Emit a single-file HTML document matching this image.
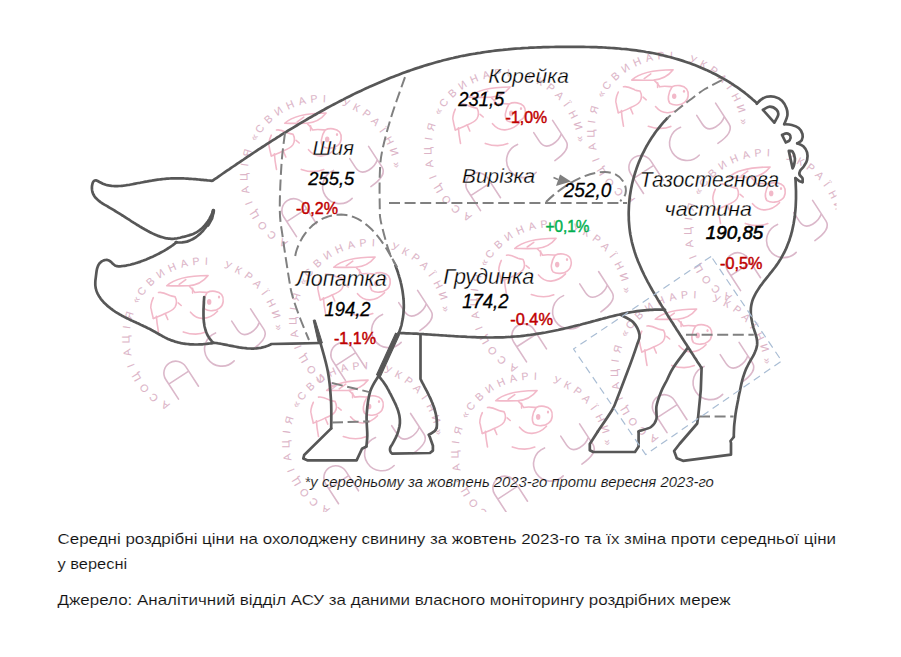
<!DOCTYPE html>
<html><head><meta charset="utf-8"><title>pig</title>
<style>html,body{margin:0;padding:0;background:#fff;}svg{display:block;}text{font-family:"Liberation Sans",sans-serif;}</style></head>
<body><svg width="901" height="657" viewBox="0 0 901 657">
<defs>
<clipPath id="wmclip"><rect x="118" y="40" width="718.5" height="472"/></clipPath>
<g id="logo">
<g font-family="Liberation Sans" font-size="10.6" fill="#dcb4c7" stroke="#dcb4c7" stroke-width="0.08" text-anchor="middle">
<text transform="rotate(209.0) translate(0,-73.4)">А</text>
<text transform="rotate(219.5) translate(0,-73.4)">С</text>
<text transform="rotate(229.5) translate(0,-73.4)">О</text>
<text transform="rotate(239.5) translate(0,-73.4)">Ц</text>
<text transform="rotate(249.0) translate(0,-73.4)">І</text>
<text transform="rotate(259.0) translate(0,-73.4)">А</text>
<text transform="rotate(269.0) translate(0,-73.4)">Ц</text>
<text transform="rotate(278.0) translate(0,-73.4)">І</text>
<text transform="rotate(287.0) translate(0,-73.4)">Я</text>
<text transform="rotate(300.0) translate(0,-73.4)">«</text>
<text transform="rotate(307.4) translate(0,-73.4)">С</text>
<text transform="rotate(317.0) translate(0,-73.4)">В</text>
<text transform="rotate(326.7) translate(0,-73.4)">И</text>
<text transform="rotate(336.4) translate(0,-73.4)">Н</text>
<text transform="rotate(346.0) translate(0,-73.4)">А</text>
<text transform="rotate(354.9) translate(0,-73.4)">Р</text>
<text transform="rotate(362.6) translate(0,-73.4)">І</text>
<text transform="rotate(379.1) translate(0,-73.4)">У</text>
<text transform="rotate(387.6) translate(0,-73.4)">К</text>
<text transform="rotate(396.6) translate(0,-73.4)">Р</text>
<text transform="rotate(405.4) translate(0,-73.4)">А</text>
<text transform="rotate(413.7) translate(0,-73.4)">Ї</text>
<text transform="rotate(422.8) translate(0,-73.4)">Н</text>
<text transform="rotate(432.0) translate(0,-73.4)">И</text>
<text transform="rotate(442.0) translate(0,-73.4)">»</text>
</g>
<g fill="none" stroke="#f2b9c9" stroke-width="1.6" stroke-linecap="round" stroke-linejoin="round">
<path d="M-36.1,-52.3 C-30,-58 -18,-62.5 5.3,-62.6 C1,-57 -4,-53 -14.3,-52.3 C-24,-52 -31,-52.3 -36.1,-52.3 Z"/>
<path d="M-23.6,-53.8 L-17,-58.5"/>
<path d="M-13.3,-51.8 C-10,-49 -9,-47 -8.1,-45.6 M-8.1,-45.6 C-4,-46.6 0,-46 4.3,-45.6"/>
<path d="M4.3,-45.6 C9,-48 16,-47 18.8,-43.5 C21.5,-40 21,-33 16.7,-30 C13,-27 6,-26.5 2.2,-29 C-0.5,-32 0,-39 4.3,-45.6 Z"/>
<path d="M-12.3,-25.9 C-9,-22 -4,-19.5 0.2,-19.7 C5,-20 11,-23 14.7,-26.9"/>
<path d="M-19.5,-6.2 C-13,-4 -4,-3 3,-6"/>
<path d="M-44.3,-45.6 C-40,-46.5 -36,-44 -33,-42.5 C-30,-41.5 -28,-41.5 -27.8,-41.4 C-26,-38 -26,-34 -27.8,-31 C-30,-28 -34,-26 -37.1,-24.9 C-40,-23.5 -45,-21 -49.5,-19.7"/>
<path d="M-49.5,-40.4 C-52,-35 -52.5,-30 -51.6,-29 C-51,-25 -50,-22 -49.5,-19.7"/>
<path d="M-37.5,-24.5 L-35,-18.6"/>
<path d="M-46.4,-21.8 C-46,-15 -45,-10 -44.3,-6.2"/>
<path d="M-24.7,-35.2 L-21.6,-32.6"/>
<path d="M-10.2,-49.7 L-10.2,-45"/>
<ellipse cx="6.4" cy="-36.2" rx="2.2" ry="2.8" fill="#f2b9c9" stroke="none"/>
<ellipse cx="16.2" cy="-41.2" rx="1.1" ry="1.5" fill="#f2b9c9" stroke="none"/>
</g>
<g fill="none" stroke="#dbb8ca" stroke-width="1.6" stroke-linecap="round" transform="rotate(-33)">
<path d="M-53.6,38 L-53.6,14.6 A11.9,11.9 0 0 1 -29.8,14.6 L-29.8,38 M-53.6,20 L-29.8,20"/>
<path d="M13.5,2.6 A17.2,17.2 0 1 0 13.9,36.2"/>
<path d="M33.5,1.5 L33.5,12 Q33.5,21 43,21.5 Q51,21.8 56,17.5 M56,1.5 L56,26 Q56,36 36,36.5"/>
</g></g>
</defs>
<rect width="901" height="657" fill="#fff"/>
<g clip-path="url(#wmclip)">
<use href="#logo" x="202.8" y="338.1"/>
<use href="#logo" x="320.8" y="175.6"/>
<use href="#logo" x="504.8" y="149.6"/>
<use href="#logo" x="667.8" y="132.4"/>
<use href="#logo" x="764.8" y="229.6"/>
<use href="#logo" x="550.8" y="300.8"/>
<use href="#logo" x="369.8" y="319.6"/>
<use href="#logo" x="531.8" y="453.1"/>
<use href="#logo" x="691.3" y="371.6"/>
<use href="#logo" x="362.8" y="442.7"/>
</g>
<path d="M212.7,180.6 L214.7,179.2 L216.8,177.8 L218.8,176.4 L220.8,175.0 L222.9,173.5 L224.9,172.1 L227.0,170.7 L229.1,169.3 L231.1,167.9 L233.2,166.5 L235.3,165.1 L237.3,163.7 L239.4,162.3 L241.5,160.9 L243.6,159.5 L245.6,158.1 L247.7,156.7 L249.8,155.3 L251.9,153.9 L254.0,152.5 L256.1,151.1 L258.2,149.7 L260.3,148.3 L262.4,147.0 L264.6,145.6 L266.7,144.2 L268.8,142.8 L270.9,141.5 L273.0,140.1 L275.2,138.8 L277.3,137.4 L279.5,136.1 L281.6,134.7 L283.7,133.4 L285.9,132.1 L288.0,130.7 L290.2,129.4 L292.4,128.1 L294.5,126.8 L296.7,125.5 L298.9,124.2 L301.0,122.9 L303.2,121.6 L305.4,120.3 L307.6,119.0 L309.8,117.7 L312.0,116.5 L314.2,115.2 L316.4,114.0 L318.6,112.7 L320.8,111.5 L323.0,110.3 L325.2,109.0 L327.4,107.8 L329.6,106.6 L331.9,105.4 L334.1,104.2 L336.3,103.1 L338.6,101.9 L340.8,100.7 L343.1,99.6 L345.3,98.4 L347.6,97.3 L349.8,96.2 L352.1,95.0 L354.3,93.9 L356.6,92.8 L358.9,91.7 L361.2,90.7 L363.4,89.6 L365.7,88.5 L368.0,87.5 L370.3,86.4 L372.6,85.4 L374.9,84.4 L377.2,83.4 L379.5,82.4 L381.8,81.4 L384.1,80.4 L386.5,79.5 L388.8,78.5 L391.1,77.6 L393.5,76.7 L395.8,75.8 L398.1,74.9 L400.5,74.0 L402.8,73.1 L405.2,72.2 L407.5,71.4 L409.9,70.6 L412.3,69.7 L414.6,68.9 L417.0,68.1 L419.4,67.4 L421.8,66.6 L424.2,65.8 L426.5,65.1 L428.9,64.4 L431.3,63.7 L433.7,63.0 L436.2,62.3 L438.6,61.6 L441.0,61.0 L443.4,60.3 L445.8,59.7 L448.3,59.1 L450.7,58.5 L453.1,58.0 L455.6,57.4 L458.0,56.9 L460.5,56.3 L462.9,55.8 L465.4,55.4 L467.9,54.9 L470.3,54.4 L472.8,54.0 L475.3,53.6 L477.8,53.1 L480.3,52.8 L482.7,52.4 L485.2,52.0 L487.7,51.7 L490.2,51.3 L492.7,51.0 L495.2,50.7 L497.7,50.4 L500.3,50.1 L502.8,49.9 L505.3,49.6 L507.8,49.4 L510.3,49.1 L512.8,48.9 L515.4,48.7 L517.9,48.5 L520.4,48.4 L522.9,48.2 L525.5,48.0 L528.0,47.9 L530.5,47.7 L533.1,47.6 L535.6,47.5 L538.1,47.4 L540.7,47.3 L543.2,47.2 L545.7,47.1 L548.3,47.1 L550.8,47.0 L553.3,47.0 L555.9,46.9 L558.4,46.9 L560.9,46.8 L563.5,46.8 L566.0,46.8 L568.5,46.8 L571.1,46.8 L573.6,46.8 L576.1,46.8 L578.7,46.8 L581.2,46.9 L583.7,46.9 L586.2,47.0 L588.8,47.0 L591.3,47.1 L593.8,47.1 L596.3,47.2 L598.8,47.3 L601.3,47.4 L603.8,47.5 L606.4,47.7 L608.9,47.8 L611.4,48.0 L613.9,48.1 L616.4,48.3 L618.9,48.5 L621.4,48.8 L623.9,49.0 L626.4,49.2 L628.9,49.5 L631.3,49.8 L633.8,50.1 L636.3,50.4 L638.8,50.8 L641.3,51.2 L643.8,51.5 L646.2,52.0 L648.7,52.4 L651.2,52.8 L653.7,53.3 L656.1,53.8 L658.6,54.3 L661.0,54.9 L663.5,55.5 L665.9,56.1 L668.4,56.7 L670.8,57.3 L673.2,58.0 L675.7,58.7 L678.1,59.4 L680.5,60.1 L682.9,60.9 L685.3,61.7 L687.6,62.5 L690.0,63.3 L692.4,64.2 L694.7,65.1 L697.1,66.0 L699.4,66.9 L701.7,67.9 L704.0,68.9 L706.3,69.9 L708.6,71.0 L710.9,72.1 L713.1,73.2 L715.4,74.3 L717.6,75.5 L719.8,76.7 L722.0,77.9 L724.2,79.1 L726.4,80.4 L728.5,81.7 L730.7,83.0 L732.8,84.4 L734.9,85.8 L737.0,87.2 L739.1,88.7 L741.1,90.2 L743.2,91.7 L745.2,93.2 L747.2,94.8 L749.1,96.4 L751.1,98.0 L753.0,99.7 L755.0,101.4 L756.9,103.1" fill="none" stroke="#575757" stroke-width="2.7" stroke-linecap="round" stroke-linejoin="round"/>
<path d="M756.8,103.7 C757.4,103.1 759.1,101.1 760.7,99.9 C762.4,98.8 764.4,97.3 766.7,96.8 C769.0,96.3 771.8,96.1 774.3,96.8 C776.8,97.5 780.0,98.8 782.0,100.7 C784.0,102.6 785.6,105.8 786.5,108.3 C787.4,110.8 787.7,113.2 787.3,115.9 C786.9,118.6 784.7,122.8 784.2,124.2" fill="none" stroke="#575757" stroke-width="2.7" stroke-linecap="round" stroke-linejoin="round"/>
<path d="M784.2,124.2 C785.5,124.3 789.4,124.4 791.8,125.0 C794.2,125.6 796.9,126.5 798.7,128.0 C800.5,129.5 802.0,132.1 802.5,134.1 C803.0,136.1 802.6,138.7 801.7,140.2 C800.8,141.7 798.0,142.8 797.2,143.3" fill="none" stroke="#575757" stroke-width="2.7" stroke-linecap="round" stroke-linejoin="round"/>
<path d="M797.2,143.3 C798.2,143.8 801.6,144.8 803.3,146.3 C804.9,147.8 806.5,150.1 807.1,152.4 C807.7,154.7 807.6,157.7 807.1,160.0 C806.6,162.3 805.1,164.3 804.0,166.1 C802.9,167.9 801.0,169.3 800.2,170.7 C799.5,172.1 799.1,173.2 799.5,174.5 C799.9,175.8 802.0,177.0 802.5,178.3 C803.0,179.6 802.5,181.5 802.5,182.1" fill="none" stroke="#575757" stroke-width="2.7" stroke-linecap="round" stroke-linejoin="round"/>
<path d="M802.5,182.1 L799.5,181.3 L795.7,178.3" fill="none" stroke="#575757" stroke-width="2.7" stroke-linecap="round" stroke-linejoin="round"/>
<path d="M762.9,109.8 C764.0,109.3 767.5,106.7 769.8,106.7 C772.1,106.7 775.2,108.4 776.6,109.8 C778.0,111.2 778.6,112.9 778.2,115.1 C777.8,117.2 774.9,121.4 774.3,122.7 Z" fill="none" stroke="#575757" stroke-width="2.7" stroke-linecap="round" stroke-linejoin="round"/>
<path d="M782.0,134.9 C782.8,134.7 785.1,133.3 786.5,133.4 C787.9,133.5 789.8,134.6 790.3,135.7 C790.8,136.8 790.4,139.1 789.6,140.2 C788.9,141.3 786.4,142.1 785.8,142.5 Z" fill="none" stroke="#575757" stroke-width="2.7" stroke-linecap="round" stroke-linejoin="round"/>
<path d="M788.8,150.9 C789.4,151.0 791.6,150.3 792.6,151.6 C793.6,152.9 794.6,156.3 794.9,158.5 C795.1,160.7 794.5,162.9 794.1,164.6 C793.7,166.2 792.9,167.8 792.6,168.4 Z" fill="none" stroke="#575757" stroke-width="2.7" stroke-linecap="round" stroke-linejoin="round"/>
<path d="M795.4,178.2 L795.6,180.8 L795.7,183.3 L795.8,185.9 L795.9,188.5 L796.0,191.0 L796.0,193.6 L796.0,196.2 L796.0,198.7 L795.9,201.2 L795.8,203.8 L795.7,206.3 L795.5,208.8 L795.3,211.3 L795.0,213.8 L794.8,216.3 L794.4,218.8 L794.0,221.3 L793.6,223.7 L793.1,226.1 L792.6,228.6 L792.1,231.0 L791.4,233.4 L790.8,235.8 L790.0,238.1 L789.3,240.5 L788.4,242.8 L787.5,245.1 L786.6,247.4 L785.6,249.7 L784.5,252.0 L783.3,254.2 L782.1,256.4 L780.9,258.6 L779.5,260.8 L778.1,263.0 L776.6,265.1 L775.1,267.2 L773.5,269.3 L771.9,271.4 L770.2,273.4 L768.6,275.5 L766.9,277.6 L765.3,279.6 L763.6,281.7 L762.1,283.8 L760.5,285.8 L759.1,287.9 L757.7,290.1 L756.4,292.2 L755.2,294.4 L754.1,296.6 L753.1,298.8 L752.3,301.0 L751.7,303.3 L751.2,305.7 L750.9,308.1 L750.8,310.5 L750.8,313.0 L751.0,315.5 L751.3,318.0 L751.8,320.6 L752.3,323.1 L752.9,325.6 L753.6,328.1 L754.4,330.6 L755.2,333.0 L755.9,335.4 L756.6,337.8 L757.0,340.2 L757.2,342.5 L757.1,344.9 L756.7,347.2 L756.0,349.5 L755.1,351.8 L754.1,354.1 L752.9,356.4 L751.6,358.6 L750.3,360.9 L749.0,363.2 L747.8,365.5 L746.6,367.8 L745.6,370.1 L744.7,372.5 L743.9,374.9 L743.1,377.3 L742.4,379.7 L741.8,382.1 L741.2,384.6 L740.7,387.0 L740.2,389.5 L739.7,392.0 L739.1,394.4 L738.6,396.9 L738.2,399.4 L737.7,401.9 L737.2,404.4 L736.8,406.9 L736.3,409.3 L735.9,411.8 L735.5,414.3 L735.2,416.8 L734.9,419.3 L734.6,421.9 L734.3,424.4 L734.1,426.9 L734.0,429.4 L733.9,431.9 L733.8,434.5 L733.8,437.0" fill="none" stroke="#575757" stroke-width="2.7" stroke-linecap="round" stroke-linejoin="round"/>
<path d="M733.8,437 L730.5,441 L731,443 L731,454.6 L683,460.8 L676.8,458.2 L674.1,451 L679.5,444 L697.2,423.5 L698.1,417.3 L700.8,390 L701.6,367.7" fill="none" stroke="#575757" stroke-width="2.7" stroke-linecap="round" stroke-linejoin="round"/>
<path d="M667.2,118.3 L665.5,120.1 L663.7,122.0 L662.1,123.9 L660.5,125.8 L658.9,127.8 L657.3,129.8 L655.8,131.8 L654.3,133.9 L652.9,136.0 L651.5,138.1 L650.1,140.2 L648.8,142.4 L647.5,144.6 L646.2,146.8 L645.0,149.1 L643.9,151.3 L642.7,153.6 L641.6,155.9 L640.6,158.2 L639.6,160.6 L638.6,162.9 L637.7,165.3 L636.8,167.7 L636.0,170.1 L635.2,172.5 L634.5,174.9 L633.8,177.4 L633.1,179.8 L632.5,182.3 L631.9,184.8 L631.4,187.3 L630.9,189.7 L630.5,192.2 L630.1,194.7 L629.8,197.2 L629.5,199.8 L629.2,202.3 L629.0,204.8 L628.9,207.3 L628.8,209.8 L628.7,212.3 L628.7,214.8 L628.8,217.3 L628.8,219.9 L629.0,222.4 L629.2,224.9 L629.4,227.3 L629.7,229.8 L630.0,232.3 L630.4,234.8 L630.9,237.2 L631.4,239.7 L631.9,242.1 L632.5,244.5 L633.2,246.9 L633.9,249.3 L634.6,251.7 L635.4,254.1 L636.2,256.5 L637.1,258.8 L638.0,261.2 L639.0,263.5 L640.0,265.8 L641.0,268.1 L642.0,270.4 L643.1,272.7 L644.2,275.0 L645.4,277.3 L646.5,279.5 L647.7,281.8 L649.0,284.1 L650.2,286.3 L651.4,288.5 L652.7,290.8 L654.0,293.0 L655.3,295.2 L656.6,297.4 L657.9,299.6 L659.3,301.8 L660.6,303.9 L661.9,306.1 L663.3,308.3 L664.6,310.5 L666.0,312.6 L667.3,314.8 L668.7,316.9 L670.1,319.1 L671.4,321.2 L672.8,323.3 L674.1,325.5 L675.5,327.6 L676.8,329.7 L678.2,331.8 L679.6,334.0 L680.9,336.1 L682.3,338.2 L683.6,340.3 L685.0,342.4 L686.4,344.5 L687.7,346.6 L689.1,348.7 L690.4,350.8 L691.8,352.9 L693.2,355.1 L694.5,357.2 L695.9,359.3 L697.2,361.4 L698.6,363.5 L700.0,365.6 L701.3,367.7" fill="none" stroke="#575757" stroke-width="2.7" stroke-linecap="round" stroke-linejoin="round"/>
<path d="M722.1,80.1 C719.2,81.6 710.4,85.7 705.0,89.0 C699.6,92.3 694.4,96.7 689.9,100.0 C685.4,103.3 682.1,106.0 678.3,109.0 C674.5,112.0 669.0,116.8 667.1,118.3" fill="none" stroke="#808080" stroke-width="2.0" stroke-linecap="butt" stroke-linejoin="round" stroke-dasharray="11,4.6"/>
<path d="M620.3,314.7 C622.4,315.9 629.8,318.6 633.0,322.0 C636.2,325.4 638.9,330.8 639.5,334.8 C640.1,338.8 638.7,339.7 636.7,345.8 C634.7,351.9 631.0,362.3 627.6,371.3 C624.2,380.3 619.2,393.5 616.6,400.0 C614.0,406.5 615.1,404.9 612.0,410.2 C608.9,415.4 600.2,427.9 597.8,431.5 " fill="none" stroke="#575757" stroke-width="2.7" stroke-linecap="round" stroke-linejoin="round"/>
<path d="M597.8,431.5 L589.8,444 L589.8,450.2 L593.3,452 L635,452 L638.6,446.6 L638.6,431.5" fill="none" stroke="#575757" stroke-width="2.7" stroke-linecap="round" stroke-linejoin="round"/>
<path d="M638.6,431.5 C638.9,431.4 638.3,431.4 640.4,430.6 C642.5,429.9 648.3,428.9 651.0,427.0 C653.7,425.1 655.5,422.4 656.4,419.0 C657.3,415.6 655.7,411.0 656.4,406.6 C657.1,402.2 659.0,396.8 660.8,392.4 C662.6,388.0 664.9,384.1 667.0,380.0 C669.1,375.9 669.7,373.1 673.2,367.7 C676.7,362.3 685.5,351.0 687.9,347.6" fill="none" stroke="#575757" stroke-width="2.7" stroke-linecap="round" stroke-linejoin="round"/>
<path d="M398.6,333.0 L401.1,333.1 L403.7,333.2 L406.2,333.3 L408.7,333.4 L411.2,333.5 L413.8,333.6 L416.3,333.7 L418.8,333.9 L421.4,334.0 L423.9,334.2 L426.4,334.3 L429.0,334.5 L431.5,334.7 L434.1,334.8 L436.6,335.0 L439.2,335.2 L441.7,335.3 L444.2,335.5 L446.8,335.7 L449.3,335.8 L451.9,336.0 L454.4,336.2 L457.0,336.3 L459.5,336.5 L462.1,336.6 L464.6,336.7 L467.2,336.9 L469.7,337.0 L472.3,337.1 L474.8,337.2 L477.4,337.3 L479.9,337.3 L482.5,337.4 L485.0,337.4 L487.6,337.5 L490.1,337.5 L492.6,337.5 L495.2,337.4 L497.7,337.4 L500.3,337.3 L502.8,337.3 L505.3,337.2 L507.9,337.0 L510.4,336.9 L512.9,336.7 L515.4,336.5 L518.0,336.3 L520.5,336.1 L523.0,335.8 L525.5,335.5 L528.0,335.2 L530.5,334.9 L533.0,334.5 L535.5,334.1 L538.0,333.7 L540.5,333.3 L543.0,332.9 L545.5,332.5 L548.0,332.0 L550.5,331.5 L553.0,331.0 L555.5,330.5 L558.0,330.0 L560.5,329.4 L562.9,328.9 L565.4,328.3 L567.9,327.7 L570.4,327.1 L572.8,326.5 L575.3,325.9 L577.8,325.3 L580.3,324.7 L582.7,324.0 L585.2,323.4 L587.7,322.7 L590.1,322.1 L592.6,321.4 L595.0,320.8 L597.5,320.1 L600.0,319.4 L602.4,318.8 L604.9,318.1 L607.3,317.5 L609.8,316.8 L612.3,316.2 L614.7,315.6 L617.2,315.0 L619.7,314.5 L622.2,313.9 L624.6,313.4 L627.1,312.9 L629.6,312.4 L632.1,312.0 L634.6,311.6 L637.1,311.2 L639.6,310.9 L642.1,310.6 L644.6,310.3 L647.1,310.1 L649.6,309.9 L652.2,309.8 L654.7,309.7 L657.3,309.6 L659.8,309.7 L662.4,309.7 L665.0,309.9" fill="none" stroke="#575757" stroke-width="2.7" stroke-linecap="round" stroke-linejoin="round"/>
<path d="M378.7,376.5 L379.8,377.5 L380.8,378.6 L381.7,379.8 L382.7,381.0 L383.6,382.2 L384.4,383.4 L385.3,384.7 L386.1,386.0 L386.9,387.3 L387.6,388.6 L388.4,390.0 L389.1,391.4 L389.8,392.8 L390.6,394.2 L391.3,395.6 L392.0,397.0 L392.7,398.4 L393.4,399.8 L394.1,401.2 L394.8,402.7 L395.5,404.1 L396.1,405.5 L396.7,407.0 L397.3,408.4 L397.8,409.9 L398.3,411.3 L398.7,412.8 L399.1,414.3 L399.4,415.7 L399.6,417.2 L399.8,418.7 L399.9,420.2 L399.9,421.7 L399.9,423.2 L399.7,424.7 L399.5,426.2 L399.2,427.7 L398.8,429.2 L398.4,430.7 L397.9,432.2 L397.4,433.7 L396.8,435.2 L396.2,436.6 L395.5,438.1 L394.8,439.5 L394.1,440.9 L393.3,442.3 L392.6,443.6 L391.8,445.0 L391.0,446.2 L390.3,447.5 Q389,451.5 392.2,453.6 L429.9,453 L432.9,450.6 L432.9,445.7 L429.9,437.2 L428.7,434.7 L431.1,433.5 Q435.5,431.5 436.5,428" fill="none" stroke="#575757" stroke-width="2.7" stroke-linecap="round" stroke-linejoin="round"/>
<path d="M436.7,428.0 L436.8,426.4 L436.9,424.8 L436.9,423.2 L436.8,421.6 L436.7,420.1 L436.6,418.5 L436.4,416.9 L436.1,415.4 L435.8,413.9 L435.4,412.3 L435.0,410.8 L434.6,409.3 L434.1,407.8 L433.6,406.3 L433.0,404.8 L432.5,403.3 L431.8,401.8 L431.2,400.3 L430.6,398.9 L429.9,397.4 L429.2,396.0 L428.5,394.5 L427.8,393.1 L427.1,391.7 L426.3,390.2 L425.6,388.8 L424.8,387.4 L424.1,386.0 L423.4,384.6 L422.6,383.2 L421.9,381.8 L421.2,380.4 L420.5,379.0 L420.5,334.6" fill="none" stroke="#575757" stroke-width="2.7" stroke-linecap="round" stroke-linejoin="round"/>
<path d="M320.5,343.0 C321.7,347.7 326.1,361.8 327.8,371.3 C329.6,380.8 330.4,390.5 331.0,400.0 C331.6,409.5 331.2,423.7 331.2,428.4" fill="none" stroke="#575757" stroke-width="2.7" stroke-linecap="round" stroke-linejoin="round"/>
<path d="M331.2,428.4 L304.2,455 L303.3,458.6 L307.8,460.4 L356.6,460.4 L362,448.8 L366.4,446.5" fill="none" stroke="#575757" stroke-width="2.7" stroke-linecap="round" stroke-linejoin="round"/>
<path d="M366.4,446.5 C366.5,444.7 367.2,440.9 367.3,435.5 C367.4,430.1 366.2,421.6 366.7,414.2 C367.2,406.8 368.3,397.6 370.3,391.2 C372.3,384.8 377.1,378.5 378.5,376.0" fill="none" stroke="#575757" stroke-width="2.7" stroke-linecap="round" stroke-linejoin="round"/>
<path d="M395.4,265.4 L395.9,266.8 L396.4,268.3 L397.0,269.7 L397.5,271.2 L398.0,272.6 L398.4,274.1 L398.9,275.6 L399.3,277.1 L399.8,278.6 L400.2,280.1 L400.6,281.6 L400.9,283.1 L401.3,284.6 L401.6,286.2 L401.9,287.7 L402.2,289.2 L402.5,290.8 L402.7,292.3 L402.9,293.8 L403.1,295.4 L403.3,296.9 L403.4,298.5 L403.6,300.0 L403.7,301.6 L403.7,303.1 L403.8,304.7 L403.8,306.2 L403.8,307.8 L403.7,309.3 L403.6,310.9 L403.5,312.4 L403.4,314.0 L403.2,315.5 L403.0,317.0 L402.8,318.6 L402.5,320.1 L402.2,321.6 L401.9,323.1 L401.6,324.6 L401.2,326.1 L400.7,327.6 L400.3,329.1 L399.7,330.6 L399.2,332.1 L398.6,333.5" fill="none" stroke="#575757" stroke-width="2.7" stroke-linecap="round" stroke-linejoin="round"/>
<path d="M212.8,342.6 L214.3,342.8 L215.8,343.0 L217.3,343.2 L218.8,343.5 L220.4,343.7 L221.9,344.0 L223.5,344.3 L225.0,344.6 L226.6,344.9 L228.2,345.3 L229.7,345.6 L231.3,345.9 L232.9,346.2 L234.5,346.5 L236.0,346.8 L237.6,347.1 L239.2,347.4 L240.8,347.6 L242.3,347.8 L243.9,348.0 L245.5,348.2 L247.1,348.4 L248.6,348.5 L250.2,348.5 L251.7,348.6 L253.3,348.6 L254.9,348.5 L256.4,348.4 L257.9,348.2 L259.5,348.0 L261.0,347.8 L262.5,347.4 L264.0,347.0 L265.6,346.6 L267.0,346.1 L268.5,345.5 L270.0,344.8 L271.5,344.0 L291.6,343.7 L320.4,343" fill="none" stroke="#575757" stroke-width="2.7" stroke-linecap="round" stroke-linejoin="round"/>
<path d="M211.9,180.8 L210.4,180.6 L208.9,180.5 L207.4,180.4 L205.9,180.2 L204.4,180.1 L202.9,179.9 L201.4,179.8 L199.9,179.6 L198.4,179.5 L196.9,179.3 L195.4,179.2 L193.9,179.1 L192.4,179.0 L190.9,178.9 L189.4,178.8 L187.8,178.7 L186.3,178.6 L184.8,178.5 L183.3,178.4 L181.8,178.4 L180.3,178.3 L178.7,178.3 L177.2,178.3 L175.7,178.3 L174.2,178.3 L172.7,178.4 L171.2,178.4 L169.7,178.5 L168.2,178.6 L166.7,178.7 L165.2,178.8 L163.7,179.0 L162.2,179.1 L160.7,179.3 L159.2,179.5 L157.8,179.7 L156.3,179.9 L154.8,180.1 L153.3,180.3 L151.8,180.6 L150.3,180.8 L148.9,181.1 L147.4,181.4 L145.9,181.6 L144.4,181.9 L142.9,182.2 L141.4,182.5 L140.0,182.8 L138.5,183.0 L137.0,183.3 L135.5,183.6 L134.0,183.9 L132.5,184.2 L131.0,184.5 L129.5,184.8 L128.0,185.0 L126.5,185.2 L125.0,185.5 L123.5,185.7 L122.0,185.8 L120.5,186.0 L119.0,186.0 L117.5,186.1 L116.0,186.1 L114.6,186.1 L113.1,186.0 L111.6,185.9 L110.1,185.7 L108.7,185.4 L107.2,185.1 L105.8,184.7 L104.3,184.2 L102.9,183.7 L101.5,183.0 L100.0,182.3 L98.6,181.5 L97.2,180.8 L95.9,180.4 L94.6,180.5 L93.6,181.3 L92.8,182.7 L92.3,184.4 L92.0,186.1 L91.9,187.8 L92.0,189.4 L92.2,190.8 L92.5,192.2 L93.0,193.6 L93.6,194.8 L94.3,196.0 L95.1,197.2 L96.1,198.2 L97.1,199.3 L98.2,200.2 L99.3,201.2 L100.5,202.1 L101.8,203.0 L103.1,203.8 L104.4,204.6 L105.8,205.4 L107.2,206.2 L108.5,207.0 L109.9,207.8 L111.3,208.6 L112.6,209.4 L113.9,210.2 L115.2,211.0 L116.5,211.8 L117.8,212.6 L119.1,213.4 L120.4,214.2 L121.6,215.0 L122.9,215.7 L124.1,216.5 L125.4,217.3 L126.6,218.1 L127.8,218.9 L129.1,219.7 L130.3,220.5 L131.5,221.3 L132.8,222.1 L134.0,222.9 L135.3,223.7 L136.5,224.5 L137.8,225.2 L139.1,226.0 L140.3,226.8 L141.6,227.5 L142.9,228.3 L144.2,229.0 L145.6,229.8 L146.9,230.5 L148.3,231.3 L149.6,232.0 L151.0,232.7 L152.4,233.4 L153.8,234.1 L155.3,234.7 L156.7,235.3 L158.1,235.9 L159.6,236.4 L161.0,236.9 L162.5,237.3 L164.0,237.7 L165.4,238.1 L166.9,238.3 L168.4,238.6 L169.8,238.7 L171.3,238.8 L172.8,238.8 L174.3,238.7 L175.7,238.5 L177.2,238.3 L178.7,238.0 L180.1,237.7 L181.6,237.3 L183.1,236.9 L184.5,236.6 L186.0,236.2 L187.5,235.8 L188.9,235.4 L190.4,234.9 L191.8,234.4 L193.2,233.9 L194.5,233.3 L195.9,232.6 L197.2,231.8 L198.4,231.0 L199.7,230.1 L200.8,229.2 L202.0,228.2 L203.1,227.1 L204.2,226.0 L205.2,224.8 L206.1,223.7 L207.1,222.4 L208.0,221.2 L208.8,219.9 L209.6,218.6 L210.3,217.2 L211.0,215.9 L211.7,214.6 L212.3,213.2 L212.8,211.8 L213.3,210.5" fill="none" stroke="#575757" stroke-width="2.7" stroke-linecap="round" stroke-linejoin="round"/>
<path d="M175.8,242.2 L177.5,242.4 L179.1,242.5 L180.7,242.5 L182.3,242.4 L183.8,242.2 L185.3,241.9 L186.8,241.6 L188.3,241.1 L189.7,240.6 L191.1,239.9 L192.5,239.2 L193.8,238.5 L195.2,237.6 L196.4,236.8 L197.7,235.8 L198.9,234.8 L200.1,233.7 L201.2,232.6 L202.3,231.5 L203.4,230.3 L204.4,229.0 L205.4,227.8 L206.4,226.4 L207.3,225.1 L208.1,223.8 L208.9,222.4 L209.7,221.0 L210.4,219.6 L211.1,218.2 L211.8,216.8 L212.4,215.4 L212.9,213.9 L213.4,212.5 L213.8,211.1" fill="none" stroke="#575757" stroke-width="2.7" stroke-linecap="round" stroke-linejoin="round"/>
<path d="M213.4,210.5 L211.6,218.5 L208,225" fill="none" stroke="#575757" stroke-width="3.6" stroke-linecap="round" stroke-linejoin="round"/>
<path d="M176.5,242.3 L175.3,243.2 L174.1,244.2 L172.9,245.1 L171.6,246.0 L170.4,246.8 L169.1,247.7 L167.8,248.5 L166.5,249.3 L165.2,250.1 L164.0,250.9 L162.6,251.6 L161.3,252.3 L160.0,253.0 L158.7,253.7 L157.3,254.4 L156.0,255.1 L154.6,255.7 L153.2,256.4 L151.9,257.0 L150.5,257.6 L149.1,258.2 L147.7,258.8 L146.3,259.4 L144.9,259.9 L143.4,260.5 L142.0,261.0 L140.6,261.6 L139.1,262.1 L137.7,262.6 L136.2,263.0 L134.7,263.5 L133.3,263.9 L131.8,264.3 L130.3,264.7 L128.8,265.0 L127.3,265.3 L125.9,265.6 L124.4,265.8 L122.9,266.0 L121.4,266.2 L119.9,266.3 L118.4,266.3 L117.0,266.2 L115.6,265.8 L114.4,265.0 L113.2,264.0 L112.0,262.9 L110.9,261.8 L109.6,260.9 L108.3,260.2 L106.8,259.9 L105.3,260.0 L103.7,260.4 L102.2,261.1 L101.0,261.9 L99.9,262.9 L99.1,264.0 L98.3,265.2 L97.8,266.5 L97.3,267.9 L96.9,269.4 L96.6,271.0 L96.4,272.5 L96.2,274.1 L96.0,275.7 L95.8,277.3 L95.6,278.9 L95.4,280.5 L95.3,282.1 L95.3,283.6 L95.3,285.1 L95.5,286.6 L95.7,288.1 L96.1,289.5 L96.5,290.9 L97.0,292.3 L97.6,293.6 L98.3,294.9 L99.0,296.2 L99.9,297.4 L100.7,298.7 L101.6,299.9 L102.6,301.0 L103.6,302.2 L104.7,303.3 L105.8,304.3 L106.9,305.4 L108.1,306.4 L109.3,307.3 L110.5,308.3 L111.7,309.2 L112.9,310.1 L114.2,311.0 L115.4,311.8 L116.7,312.6 L118.0,313.4 L119.3,314.2 L120.6,314.9 L121.9,315.7 L123.3,316.4 L124.6,317.1 L126.0,317.8 L127.3,318.4 L128.7,319.1 L130.1,319.8 L131.4,320.4 L132.8,321.1 L134.2,321.7 L135.6,322.3 L137.0,323.0 L138.4,323.6 L139.7,324.2 L141.1,324.9 L142.5,325.5 L143.9,326.2 L145.2,326.8 L146.6,327.5 L148.0,328.2 L149.3,328.8 L150.7,329.5 L152.0,330.3 L153.3,331.0 L154.7,331.7 L156.0,332.5 L157.3,333.2 L158.6,334.0 L159.9,334.7 L161.2,335.4 L162.5,336.2 L163.9,336.9 L165.2,337.6 L166.6,338.3 L167.9,338.9 L169.3,339.5 L170.7,340.1 L172.2,340.6 L173.6,341.1 L175.1,341.6 L176.5,342.0 L178.0,342.4 L179.5,342.7 L181.0,343.1 L182.5,343.4 L184.0,343.6 L185.5,343.8 L187.1,344.0 L188.6,344.1 L190.1,344.3 L191.6,344.4 L193.1,344.4 L194.6,344.5 L196.1,344.5 L197.6,344.5 L199.1,344.4 L200.6,344.3 L202.1,344.3 L203.6,344.2 L205.1,344.0 L206.6,343.9 L208.2,343.7 L209.7,343.5 L211.2,343.3 L212.7,343.1" fill="none" stroke="#575757" stroke-width="2.7" stroke-linecap="round" stroke-linejoin="round"/>
<path d="M204.2,297.0 L204.1,298.5 L204.0,300.0 L203.9,301.5 L203.9,303.1 L203.8,304.7 L203.7,306.2 L203.6,307.8 L203.5,309.4 L203.5,311.1 L203.5,312.7 L203.5,314.3 L203.5,315.9 L203.6,317.5 L203.6,319.1 L203.8,320.7 L203.9,322.3 L204.2,323.9 L204.4,325.5 L204.7,327.0 L205.1,328.5 L205.5,330.0 L206.0,331.5 L206.6,333.0 L207.2,334.4 L207.9,335.8 L208.7,337.1 L209.5,338.4 L210.5,339.7 L211.5,340.9 L212.6,342.1" fill="none" stroke="#575757" stroke-width="2.7" stroke-linecap="round" stroke-linejoin="round"/>
<path d="M285.0,133.0 C284.4,137.9 282.5,149.9 281.6,162.7 C280.7,175.5 279.6,197.4 279.8,210.0 C280.0,222.6 281.3,226.3 282.9,238.3 C284.5,250.3 287.9,272.2 289.5,281.8 C291.1,291.4 290.8,290.2 292.5,296.2 C294.2,302.2 297.2,310.7 300.0,318.0 C302.8,325.3 307.5,336.3 309.0,340.0" fill="none" stroke="#808080" stroke-width="2.0" stroke-linecap="butt" stroke-linejoin="round" stroke-dasharray="11,4.6"/>
<path d="M405.0,77.1 C402.7,83.8 395.0,104.6 391.2,117.0 C387.4,129.4 384.0,141.8 382.1,151.3 C380.2,160.8 380.2,164.4 379.8,174.2 C379.4,184.0 379.6,202.0 379.8,210.0 C380.0,218.0 379.5,215.3 381.0,222.2 C382.5,229.1 386.3,243.7 389.0,251.2 C391.7,258.7 395.8,264.5 397.1,267.2" fill="none" stroke="#808080" stroke-width="2.0" stroke-linecap="butt" stroke-linejoin="round" stroke-dasharray="11,4.6"/>
<path d="M295.2,256.0 L295.7,253.6 L296.3,251.2 L297.1,248.8 L298.0,246.4 L299.0,244.0 L300.1,241.7 L301.4,239.4 L302.7,237.1 L304.2,234.9 L305.7,232.8 L307.4,230.7 L309.2,228.8 L311.0,226.9 L312.9,225.1 L315.0,223.5 L317.1,221.9 L319.2,220.5 L321.5,219.3 L323.8,218.1 L326.2,217.2 L328.6,216.4 L331.1,215.7 L333.5,215.2 L336.1,214.9 L338.6,214.7 L341.1,214.6 L343.6,214.8 L346.1,215.1 L348.5,215.5 L350.9,216.1 L353.3,216.9 L355.6,217.9 L357.8,218.9 L360.0,220.2 L362.2,221.5 L364.3,223.0 L366.3,224.6 L368.3,226.2 L370.2,228.0 L372.1,229.8 L373.9,231.8 L375.7,233.7 L377.4,235.8 L379.0,237.8 L380.6,240.0 L382.1,242.1 L383.6,244.3 L385.0,246.4 L386.4,248.6 L387.7,250.8 L389.0,253.0 L390.3,255.2 L391.5,257.4 L392.7,259.6 L393.8,261.8 L395.0,263.9" fill="none" stroke="#808080" stroke-width="2.0" stroke-linecap="butt" stroke-linejoin="round" stroke-dasharray="11,4.6"/>
<path d="M389,203 L627,203" fill="none" stroke="#808080" stroke-width="2.0" stroke-linecap="butt" stroke-linejoin="round" stroke-dasharray="11,4.6"/>
<path d="M546,202 C562,186 585,172 605,172 C625,172 632,194 620,201" fill="none" stroke="#808080" stroke-width="2.0" stroke-linecap="butt" stroke-linejoin="round" stroke-dasharray="11,4.6"/>
<path d="M332,383 L369.4,392.1" fill="none" stroke="#808080" stroke-width="2.0" stroke-linecap="butt" stroke-linejoin="round" stroke-dasharray="11,4.6"/>
<path d="M332,422.6 L369.4,421.4" fill="none" stroke="#808080" stroke-width="2.0" stroke-linecap="butt" stroke-linejoin="round" stroke-dasharray="11,4.6"/>
<path d="M686,334.8 L753.8,334.8" fill="none" stroke="#808080" stroke-width="2.0" stroke-linecap="butt" stroke-linejoin="round" stroke-dasharray="11,4.6"/>
<path d="M699,416.4 L733.6,416.4" fill="none" stroke="#808080" stroke-width="2.0" stroke-linecap="butt" stroke-linejoin="round" stroke-dasharray="11,4.6"/>
<path d="M711.1,256.4 L573.5,349 L645.7,454.6 L781.7,361 Z" fill="none" stroke="#a9bdd4" stroke-width="1.2" stroke-linecap="butt" stroke-linejoin="round" stroke-dasharray="7.5,5"/>
<polygon points="556,186 560,174.5 571,181.5" fill="#7f7f7f"/>
<path d="M313.2,320.3 L315.2,319.9 L322.4,343 L318.4,343.4 Z" fill="#575757" stroke="#575757" stroke-width="1" stroke-linejoin="round"/>
<path d="M395.6,333.2 L399.4,334.8 L380.4,376.4 L376.6,374.8 Z" fill="#575757" stroke="#575757" stroke-width="1.2" stroke-linejoin="round"/>
<path d="M553.5,177.5 L558,179.5" stroke="#7f7f7f" stroke-width="1.5"/>
<text x="488.3" y="83.3" font-size="21.0" font-style="italic" fill="#000" textLength="80.5" lengthAdjust="spacingAndGlyphs" stroke="#fff" stroke-width="0.28">Корейка</text>
<text x="458.3" y="105.6" font-size="19.3" font-style="italic" fill="#000" textLength="46.0" lengthAdjust="spacingAndGlyphs" stroke="#000" stroke-width="0.3">231,5</text>
<text x="505.6" y="123.0" font-size="16.3" font-style="normal" fill="#c00000" textLength="41.6" lengthAdjust="spacingAndGlyphs" stroke="#c00000" stroke-width="0.45">-1,0%</text>
<text x="312.5" y="154.5" font-size="19.5" font-style="italic" fill="#000" textLength="41.5" lengthAdjust="spacingAndGlyphs" stroke="#fff" stroke-width="0.28">Шия</text>
<text x="308.3" y="184.5" font-size="19.2" font-style="italic" fill="#000" textLength="46.0" lengthAdjust="spacingAndGlyphs" stroke="#000" stroke-width="0.3">255,5</text>
<text x="296.0" y="213.8" font-size="16.3" font-style="normal" fill="#c00000" textLength="42.0" lengthAdjust="spacingAndGlyphs" stroke="#c00000" stroke-width="0.45">-0,2%</text>
<text x="462.0" y="182.9" font-size="20.5" font-style="italic" fill="#000" textLength="73.0" lengthAdjust="spacingAndGlyphs" stroke="#fff" stroke-width="0.28">Вирізка</text>
<text x="563.8" y="196.8" font-size="19.3" font-style="italic" fill="#000" textLength="47.5" lengthAdjust="spacingAndGlyphs" stroke="#000" stroke-width="0.3">252,0</text>
<text x="545.6" y="231.9" font-size="16.0" font-style="normal" fill="#00b050" textLength="43.7" lengthAdjust="spacingAndGlyphs" stroke="#00b050" stroke-width="0.45">+0,1%</text>
<text x="639.8" y="186.7" font-size="21.5" font-style="italic" fill="#000" textLength="139.3" lengthAdjust="spacingAndGlyphs" stroke="#fff" stroke-width="0.28">Тазостегнова</text>
<text x="664.6" y="215.6" font-size="21.0" font-style="italic" fill="#000" textLength="87.4" lengthAdjust="spacingAndGlyphs" stroke="#fff" stroke-width="0.28">частина</text>
<text x="705.8" y="239.3" font-size="19.0" font-style="italic" fill="#000" textLength="57.5" lengthAdjust="spacingAndGlyphs" stroke="#000" stroke-width="0.6">190,85</text>
<text x="720.0" y="269.2" font-size="16.3" font-style="normal" fill="#c00000" textLength="42.3" lengthAdjust="spacingAndGlyphs" stroke="#c00000" stroke-width="0.45">-0,5%</text>
<text x="296.0" y="285.5" font-size="21.5" font-style="italic" fill="#000" textLength="90.8" lengthAdjust="spacingAndGlyphs" stroke="#fff" stroke-width="0.28">Лопатка</text>
<text x="324.6" y="316.0" font-size="19.5" font-style="italic" fill="#000" textLength="46.0" lengthAdjust="spacingAndGlyphs" stroke="#000" stroke-width="0.3">194,2</text>
<text x="334.0" y="344.2" font-size="16.3" font-style="normal" fill="#c00000" textLength="41.9" lengthAdjust="spacingAndGlyphs" stroke="#c00000" stroke-width="0.45">-1,1%</text>
<text x="443.2" y="284.0" font-size="21.5" font-style="italic" fill="#000" textLength="91.0" lengthAdjust="spacingAndGlyphs" stroke="#fff" stroke-width="0.28">Грудинка</text>
<text x="462.2" y="307.6" font-size="19.3" font-style="italic" fill="#000" textLength="46.4" lengthAdjust="spacingAndGlyphs" stroke="#000" stroke-width="0.3">174,2</text>
<text x="510.3" y="324.5" font-size="16.3" font-style="normal" fill="#c00000" textLength="42.6" lengthAdjust="spacingAndGlyphs" stroke="#c00000" stroke-width="0.45">-0.4%</text>
<text x="304.6" y="486.8" font-size="14.0" font-style="italic" fill="#111" textLength="409.2" lengthAdjust="spacingAndGlyphs" stroke="#fff" stroke-width="0.12">*у середньому за жовтень 2023-го проти вересня 2023-го</text>
<text x="57.5" y="543.6" font-size="15.3" font-style="normal" fill="#111" textLength="778.6" lengthAdjust="spacingAndGlyphs" stroke="#fff" stroke-width="0.12">Середні роздрібні ціни на охолоджену свинину за жовтень 2023-го та їх зміна проти середньої ціни</text>
<text x="57.5" y="568.6" font-size="15.3" font-style="normal" fill="#111" textLength="69.6" lengthAdjust="spacingAndGlyphs" stroke="#fff" stroke-width="0.12">у вересні</text>
<text x="57.5" y="605.1" font-size="15.3" font-style="normal" fill="#111" textLength="673.2" lengthAdjust="spacingAndGlyphs" stroke="#fff" stroke-width="0.12">Джерело: Аналітичний відділ АСУ за даними власного моніторингу роздрібних мереж</text>
</svg></body></html>
